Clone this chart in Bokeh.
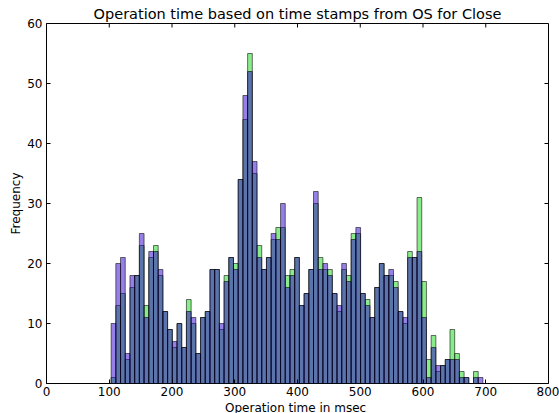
import numpy as np
from bokeh.plotting import figure
from bokeh.models import FixedTicker, Range1d
from bokeh.embed import file_html
from bokeh.resources import INLINE

# Histogram bins (msec)
bin_start = 103.0
bin_width = 7.5

# Counts per bin for the two measurement series
counts_green = [1, 13, 15, 4, 16, 18, 23, 13, 21, 23,
                18, 12, 9, 6, 10, 6, 14, 10, 5, 11,
                12, 19, 19, 9, 18, 21, 20, 34, 44, 55,
                35, 23, 19, 21, 24, 26, 26, 18, 19, 21,
                13, 15, 19, 30, 21, 19, 19, 15, 12, 19,
                18, 25, 25, 15, 14, 11, 16, 20, 18, 18,
                17, 12, 10, 22, 21, 31, 17, 4, 8, 2,
                3, 4, 9, 5, 2, 1, 0, 2, 0]
counts_purple = [10, 20, 21, 5, 18, 18, 25, 11, 22, 22,
                 19, 12, 9, 7, 10, 6, 12, 11, 5, 11,
                 12, 19, 19, 10, 17, 21, 19, 34, 48, 52,
                 37, 21, 19, 21, 25, 24, 30, 16, 18, 21,
                 13, 15, 19, 32, 19, 20, 18, 15, 13, 20,
                 17, 24, 26, 15, 13, 11, 16, 20, 18, 19,
                 16, 12, 11, 21, 21, 22, 11, 1, 6, 3,
                 3, 4, 4, 4, 1, 1, 0, 1, 1]

x_ticks = [0, 100, 200, 300, 400, 500, 600, 700, 800]
y_ticks = [0, 10, 20, 30, 40, 50, 60]

X_MIN, X_MAX = 0, 800
Y_MIN, Y_MAX = 0, 60

n_bins = len(counts_green)
left_edges = bin_start + bin_width * np.arange(n_bins)
right_edges = left_edges + bin_width

FONT = "DejaVu Sans"
TICK_LEN = 4

p = figure(frame_width=502, frame_height=360,
           x_range=Range1d(X_MIN, X_MAX), y_range=Range1d(Y_MIN, Y_MAX),
           output_backend="svg", toolbar_location=None,
           min_border_left=46, min_border_right=11,
           min_border_top=23, min_border_bottom=30,
           title="Operation time based on time stamps from OS for Close")

p.title.text_font = FONT
p.title.text_font_size = "14.5px"
p.title.text_font_style = "normal"
p.title.align = "center"
p.title.text_color = "black"
p.title.standoff = 3

p.grid.visible = False
p.outline_line_color = "black"
p.outline_line_alpha = 1
p.outline_line_width = 1
p.background_fill_color = "white"
p.border_fill_color = "white"

p.quad(left=left_edges, right=right_edges, bottom=0, top=counts_green,
       fill_color=(20, 215, 20), fill_alpha=0.5,
       line_color="black", line_alpha=0.55, line_width=1)
p.quad(left=left_edges, right=right_edges, bottom=0, top=counts_purple,
       fill_color=(45, 0, 205), fill_alpha=0.5,
       line_color="black", line_alpha=0.55, line_width=1)

# Inward tick marks on the top and right edges of the frame
p.ray(x=x_ticks, y=Y_MAX, length=TICK_LEN, length_units="screen",
      angle=-np.pi / 2, line_color="black", line_width=1)
p.ray(x=X_MAX, y=y_ticks, length=TICK_LEN, length_units="screen",
      angle=np.pi, line_color="black", line_width=1)


def style_axis(ax, ticks):
    ax.ticker = FixedTicker(ticks=ticks)
    ax.axis_line_color = None
    ax.major_tick_in = TICK_LEN
    ax.major_tick_out = 0
    ax.major_tick_line_color = "black"
    ax.minor_tick_line_color = None
    ax.major_label_text_font = FONT
    ax.major_label_text_font_size = "12px"
    ax.major_label_text_color = "black"
    ax.major_label_standoff = 4
    ax.axis_label_text_font = FONT
    ax.axis_label_text_font_size = "12px"
    ax.axis_label_text_font_style = "normal"
    ax.axis_label_text_color = "black"


xa = p.xaxis[0]
style_axis(xa, x_ticks)
xa.axis_label = "Operation time in  msec"
xa.axis_label_standoff = 2
xa.major_label_standoff = 3

ya = p.yaxis[0]
style_axis(ya, y_ticks)
ya.axis_label = "Frequency"
ya.axis_label_standoff = 1

open("out.html", "w").write(file_html(p, INLINE))
